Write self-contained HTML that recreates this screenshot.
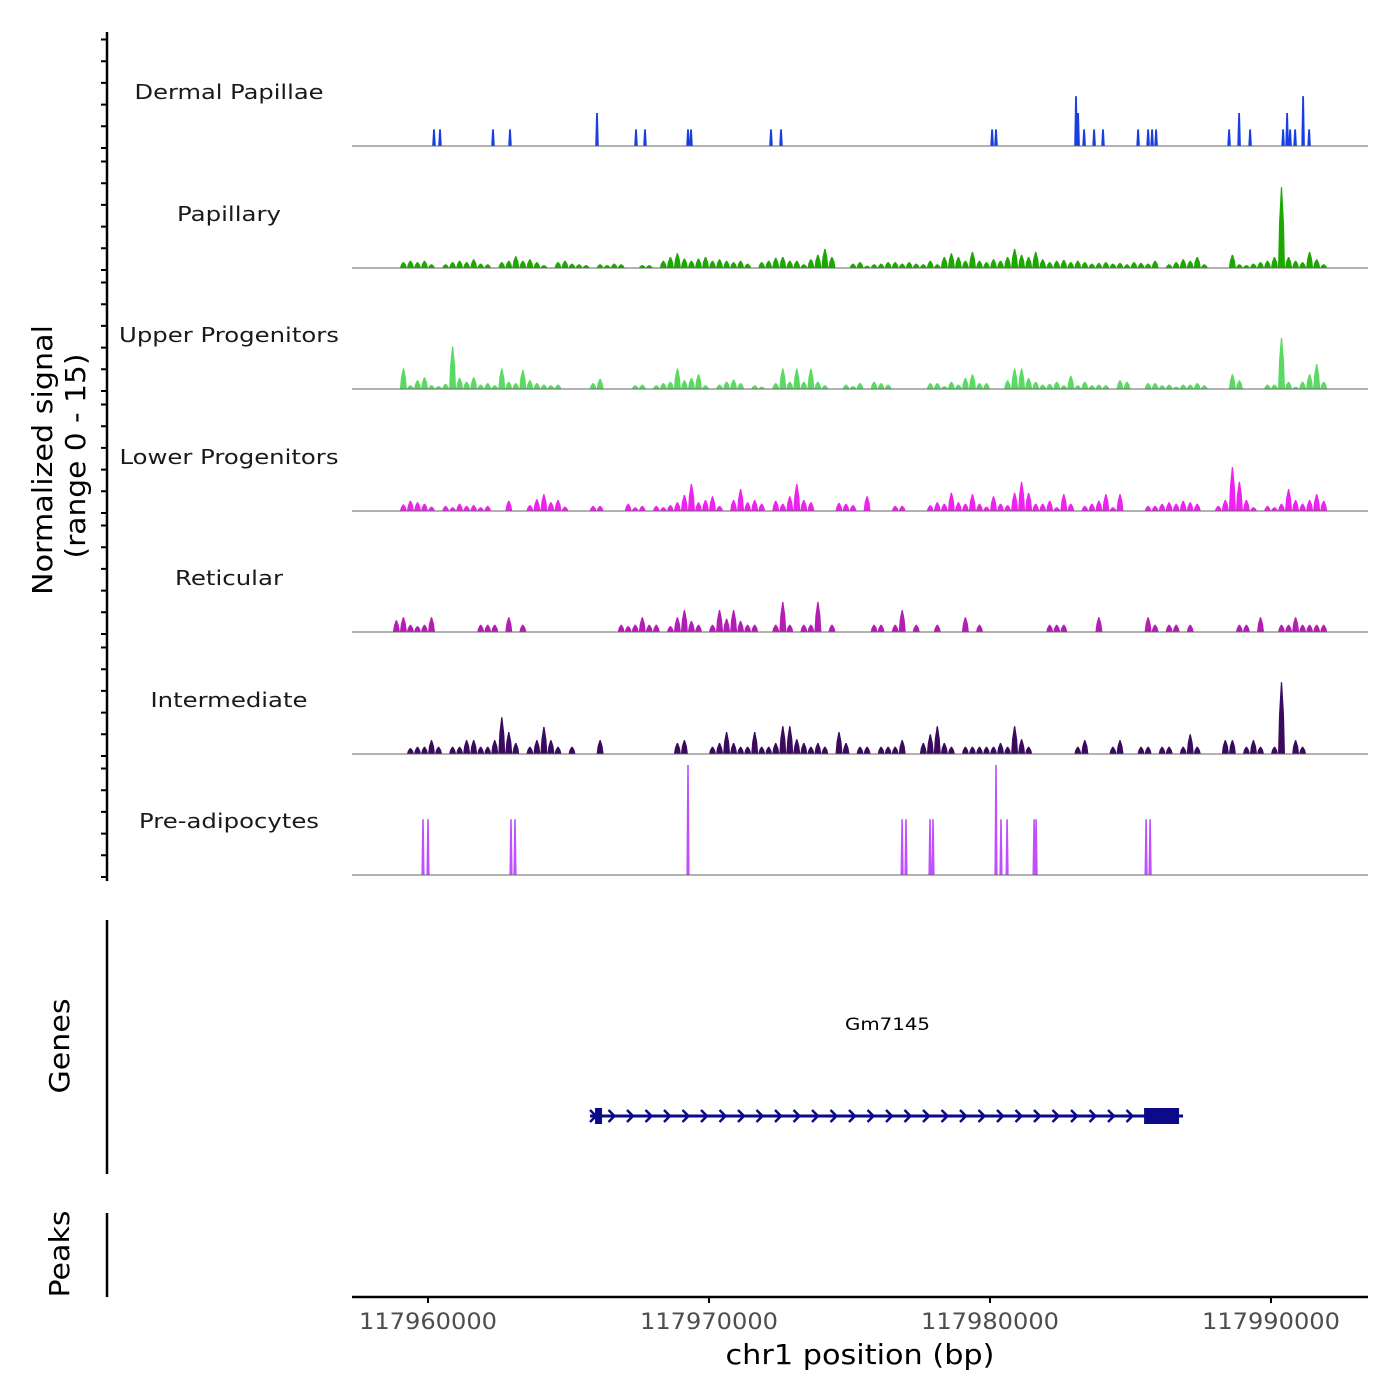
<!DOCTYPE html>
<html><head><meta charset="utf-8"><style>
html,body{margin:0;padding:0;background:#fff;}
svg{display:block;font-family:"DejaVu Sans","Liberation Sans",sans-serif;}
</style></head><body>
<svg id="chart" width="1400" height="1400" viewBox="0 0 1400 1400" xmlns="http://www.w3.org/2000/svg">
<rect width="1400" height="1400" fill="#fff"/>
<g id="tracks"></g>
<g id="axes"></g>
<g id="genes"></g>
</svg>
<script>
// ---- data ----
const trackNames = ["Dermal Papillae","Papillary","Upper Progenitors","Lower Progenitors","Reticular","Intermediate","Pre-adipocytes"];
const trackColors = ["#1a3fe0","#1ca800","#5ada62","#ee22ee","#b41db5","#3a0a5f","#c050ff"];
const xTicks = [117960000,117970000,117980000,117990000];
const binStart = 117958500;
const binSize = 250;
const papillary = [0,0,0.8,1.0,0.8,1.0,0.5,0,0.5,0.8, 1.0,0.8,1.2,0.6,0.5,0,0.8,1.0,1.6,1.0, 1.2,0.8,0.4,0,0.8,1.0,0.6,0.5,0.4,0, 0.5,0.4,0.6,0.5,0,0,0.4,0.4,0,1.0, 1.5,2.0,1.3,1.0,1.3,1.5,1.0,1.2,1.0,0.8, 1.0,0.6,0,0.8,1.0,1.4,1.5,1.0,1.0,0.5, 1.2,1.8,2.6,1.5,0,0,0.6,0.8,0.3,0.5, 0.6,0.8,0.8,0.6,0.8,0.6,0.5,1.0,0.5,1.5, 2.0,1.5,1.0,2.2,1.0,0.8,1.2,1.0,1.5,2.6, 1.8,1.5,2.2,1.2,0.8,1.0,1.1,0.8,1.0,0.8, 0.6,0.7,0.8,0.6,0.7,0.5,0.8,0.7,0.6,1.0, 0,0.5,0.8,1.2,1.0,1.5,0.5,0,0,0, 1.8,0.5,0.4,0.6,0.8,1.0,1.5,11,1.5,1.0, 0.8,2.2,1.2,0.5];
const upperProg = [0,0,2.8,0.5,1.2,1.6,0.5,0.4,0.7,5.8, 1.5,1.0,1.6,0.6,0.8,0.5,2.8,1.0,0.8,2.6, 1.2,0.8,0.6,0.5,0.6,0,0,0,0,0.8, 1.4,0,0,0,0,0.5,0.6,0,0.5,0.8, 1.0,2.8,1.2,1.5,2.0,0.5,0,0.6,1.0,1.3, 0.8,0,0.5,0.3,0,0.8,2.8,1.0,2.8,1.0, 2.8,1.0,0.5,0,0,0.6,0.4,0.8,0,1.0, 0.8,0.6,0,0,0,0,0,0.8,0.8,0.4, 1.0,0.6,1.5,2.0,0.8,0.8,0,0,1.2,2.8, 2.8,1.5,1.0,0.6,0.7,1.0,0.5,1.8,0.5,1.0, 0.5,0.6,0.5,0,1.2,1.0,0,0,0.8,0.8, 0.5,0.6,0.3,0.6,0.6,0.8,0.5,0,0,0, 2.0,1.2,0,0,0,0.6,0.6,7,1.0,0.3, 1.0,2.0,3.4,1.0];
const lowerProg = [0,0,0.9,1.4,1.2,1.0,0.6,0,0.7,0.5, 1.0,0.7,0.8,0.5,0.7,0,0,1.4,0,0, 0.8,1.6,2.3,1.2,1.5,0.6,0,0,0,0.7, 0.7,0,0,0,1.0,0.5,0.7,0,0.7,0.5, 0.8,1.2,2.2,3.7,1.2,1.5,2.0,0.7,0,1.5, 3.0,1.2,1.5,1.0,0,1.4,1.0,2.0,3.7,1.5, 1.2,0,0,0,1.1,1.0,0.8,0,2.0,0, 0,0,0.7,0.7,0,0,0,0.8,1.2,1.0, 2.5,1.2,1.0,2.3,1.0,0.6,2.0,1.0,0.8,2.5, 4.0,2.5,1.0,1.0,1.4,0.5,2.3,1.0,0,0.7, 1.0,1.4,2.3,0.5,2.3,0,0,0,0.7,0.7, 1.0,1.2,1.0,1.4,1.2,1.0,0,0,0.7,1.5, 6.0,4.0,1.5,0.5,0,0.7,0.5,1.0,3.0,1.5, 1.0,1.5,2.3,1.4];
const reticular = [0,1.6,2.0,1.0,0.8,1.0,2.0,0,0,0, 0,0,0,1.0,1.0,1.0,0,2.0,0,1.0, 0,0,0,0,0,0,0,0,0,0, 0,0,0,1.0,0.8,1.0,2.0,1.0,1.0,0, 0.8,2.0,3.0,1.5,1.0,0,1.0,3.0,1.8,3.0, 1.5,1.0,1.0,0,0,1.0,4.1,1.0,0,1.0, 1.0,4.1,0,1.0,0,0,0,0,0,1.0, 1.0,0,1.0,3.0,0,1.0,0,0,1.0,0, 0,0,2.0,0,1.0,0,0,0,0,0, 0,0,0,0,1.0,1.0,1.0,0,0,0, 0,2.0,0,0,0,0,0,0,2.0,1.0, 0,1.0,1.0,0,1.0,0,0,0,0,0, 0,1.0,1.0,0,2.0,0,0,1.0,1.0,2.0, 1.0,1.0,1.0,1.0];
const intermediate = [0,0,0,0.8,1.0,1.0,1.9,1.0,0,1.0, 1.0,1.9,1.9,1.0,1.0,1.9,5.0,3.0,1.5,0, 1.0,1.9,3.7,1.9,1.0,0,1.0,0,0,0, 1.9,0,0,0,0,0,0,0,0,0, 0,1.5,1.9,0,0,0,1.0,1.5,3.0,1.5, 1.0,1.0,3.0,1.0,1.0,1.5,3.8,3.8,2.0,1.5, 1.0,1.5,1.0,0,3.0,1.5,0,1.0,1.0,0, 1.0,1.0,1.0,1.9,0,0,1.5,2.7,3.8,1.5, 1.0,0,1.0,1.0,1.0,1.0,1.0,1.5,1.0,3.8, 2.0,1.0,0,0,0,0,0,0,1.0,1.9, 0,0,0,1.0,1.9,0,0,1.0,1.0,0, 1.0,1.0,0,1.0,2.7,1.0,0,0,0,1.9, 1.9,0,1.0,1.9,1.0,0,1.0,9.8,0,1.9, 1.0,0,0,0];
const dpPos = [117960214,117960427,117962313,117962918,117966015,117966015,117967403,117967723,117969253,117969360,117972207,117972563,117980073,117980215,117983062,117983134,117983347,117983703,117984023,117985269,117985625,117985768,117985910,117988508,117988864,117989256,117990430,117990572,117990679,117990857,117991142,117991355];
const dpVal = [2.27,2.27,2.27,2.27,2.27,4.5,2.27,2.27,2.27,2.27,2.27,2.27,2.27,2.27,6.8,4.5,2.27,2.27,2.27,2.27,2.27,2.27,2.27,2.27,4.5,2.27,2.27,4.5,2.27,2.27,6.8,2.27];
const preadPos = [117959822,117960000,117962954,117963096,117969253,117976870,117977012,117977866,117977973,117980215,117980393,117980607,117981568,117981640,117985554,117985697];
const preadVal = [7.6,7.6,7.6,7.6,15,7.6,7.6,7.6,7.6,15,7.6,7.6,7.6,7.6,7.6,7.6];
const geneName = "Gm7145";
const geneStart = 117965766, geneEnd = 117986870;
const exonStarts = [117965944, 117985483];
const exonEnds = [117966193, 117986728];

// ---- scales ----
const NS = "http://www.w3.org/2000/svg";
const X0 = 352, X1 = 1368, BP0 = 117957295, BP1 = 117993452;
function xs(bp){ return X0 + (bp - BP0) / (BP1 - BP0) * (X1 - X0); }
const baselines = [146, 268, 389, 511, 632, 754, 875];
const pxPerUnit = 110 / 15;
function ys(v, t){ return baselines[t] - v * pxPerUnit; }
function mk(tag, attrs, parent){ const e = document.createElementNS(NS, tag); for (const k in attrs) e.setAttribute(k, attrs[k]); parent.appendChild(e); return e; }

const tracksG = document.getElementById('tracks');
const axesG = document.getElementById('axes');
const genesG = document.getElementById('genes');

function drawBins(arr, t){
  let d = "";
  const b = baselines[t];
  for (let i = 0; i < arr.length; i++){
    const v = arr[i]; if (!v) continue;
    const x0 = xs(binStart + i*binSize), x1 = xs(binStart + (i+1)*binSize), xc = (x0+x1)/2;
    const y = ys(v, t);
    const ym = ys(v*0.55, t);
    d += `M${x0.toFixed(1)},${b}L${(x0+1).toFixed(1)},${ym.toFixed(1)}L${(xc-0.6).toFixed(1)},${y.toFixed(1)}L${(xc+0.6).toFixed(1)},${y.toFixed(1)}L${(x1-1).toFixed(1)},${ym.toFixed(1)}L${x1.toFixed(1)},${b}Z`;
  }
  const p = mk('path', {d: d, fill: trackColors[t]}, tracksG);
  
  
}
function drawSpikes(pos, val, t, w){
  let d = "";
  const b = baselines[t];
  for (let i = 0; i < pos.length; i++){
    const x = xs(pos[i]), y = ys(val[i], t);
    d += `M${(x-w).toFixed(1)},${b}L${(x-w*0.5).toFixed(1)},${y.toFixed(1)}L${(x+w*0.5).toFixed(1)},${y.toFixed(1)}L${(x+w).toFixed(1)},${b}Z`;
  }
  const p = mk('path', {d: d, fill: trackColors[t]}, tracksG);
  
  
}

drawSpikes(dpPos, dpVal, 0, 1.8);
drawBins(papillary, 1);
drawBins(upperProg, 2);
drawBins(lowerProg, 3);
drawBins(reticular, 4);
drawBins(intermediate, 5);
drawSpikes(preadPos, preadVal, 6, 1.6);

// baselines and track labels
const labelW = [189,104,220,219,108,157,180];
for (let t = 0; t < trackNames.length; t++){
  const l = mk('line', {x1: X0, x2: X1, y1: baselines[t], y2: baselines[t], stroke: '#666', 'stroke-width': 1}, tracksG);
  
  
  const tx = mk('text', {x: 229, y: baselines[t] - 47, 'text-anchor': 'middle', 'font-size': 20, fill: '#1a1a1a', textLength: labelW[t], lengthAdjust: 'spacingAndGlyphs'}, tracksG);
  tx.textContent = trackNames[t];
  
  
}

// left signal axis
let a = mk('line', {x1: 107, x2: 107, y1: 32, y2: 881, stroke: '#000', 'stroke-width': 2.5}, axesG);


let tk = "";
for (let t = 0; t < baselines.length; t++){
  for (let k = 0; k < 6; k++){ const y = baselines[t] - k*21.7 + 2; tk += `M101,${y.toFixed(1)}H107`; }
}
a = mk('path', {d: tk, stroke: '#000', 'stroke-width': 2}, axesG);


a = mk('text', {x: 0, y: 0, transform: 'translate(52,460) rotate(-90)', 'text-anchor': 'middle', 'font-size': 28, fill: '#000', textLength: 270, lengthAdjust: 'spacingAndGlyphs'}, axesG);
a.textContent = "Normalized signal";


a = mk('text', {x: 0, y: 0, transform: 'translate(85,456) rotate(-90)', 'text-anchor': 'middle', 'font-size': 28, fill: '#000', textLength: 205, lengthAdjust: 'spacingAndGlyphs'}, axesG);
a.textContent = "(range 0 - 15)";



// genes / peaks panel axes
a = mk('line', {x1: 107, x2: 107, y1: 920, y2: 1174, stroke: '#000', 'stroke-width': 2.5}, axesG);


a = mk('text', {x: 0, y: 0, transform: 'translate(69,1046) rotate(-90)', 'text-anchor': 'middle', 'font-size': 28, fill: '#000', textLength: 95, lengthAdjust: 'spacingAndGlyphs'}, axesG);
a.textContent = "Genes";


a = mk('line', {x1: 107, x2: 107, y1: 1213, y2: 1297, stroke: '#000', 'stroke-width': 2.5}, axesG);


a = mk('text', {x: 0, y: 0, transform: 'translate(69,1254) rotate(-90)', 'text-anchor': 'middle', 'font-size': 28, fill: '#000', textLength: 87, lengthAdjust: 'spacingAndGlyphs'}, axesG);
a.textContent = "Peaks";



// x axis
a = mk('line', {x1: X0, x2: X1, y1: 1297, y2: 1297, stroke: '#000', 'stroke-width': 2.5}, axesG);


for (let i = 0; i < xTicks.length; i++){
  const x = xs(xTicks[i]);
  const l = mk('line', {x1: x, x2: x, y1: 1297, y2: 1303, stroke: '#000', 'stroke-width': 2}, axesG);
  
  
  const t = mk('text', {x: x, y: 1329, 'text-anchor': 'middle', 'font-size': 22, fill: '#4d4d4d', textLength: 138, lengthAdjust: 'spacingAndGlyphs'}, axesG);
  t.textContent = String(xTicks[i]);
  
  
}
a = mk('text', {x: 860, y: 1364, 'text-anchor': 'middle', 'font-size': 28, fill: '#000', textLength: 269, lengthAdjust: 'spacingAndGlyphs'}, axesG);
a.textContent = "chr1 position (bp)";



// gene model
const gc = "#0a0a8a";
const gx0 = xs(geneStart), gx1 = xs(geneEnd);
a = mk('line', {x1: gx0, x2: gx1, y1: 1116, y2: 1116, stroke: gc, 'stroke-width': 3}, genesG);


let ad = "";
for (let x = gx0 + 3; x < gx1 - 30; x += 18.5){ ad += `M${(x-3).toFixed(1)},1110L${(x+3).toFixed(1)},1116L${(x-3).toFixed(1)},1122`; }
a = mk('path', {d: ad, stroke: gc, 'stroke-width': 2.5, fill: 'none'}, genesG);


for (let i = 0; i < exonStarts.length; i++){
  const r = mk('rect', {x: xs(exonStarts[i]), y: 1108, width: xs(exonEnds[i]) - xs(exonStarts[i]), height: 16, fill: gc}, genesG);
  
  
}
a = mk('text', {x: (gx0+gx1)/2 + 1, y: 1030, 'text-anchor': 'middle', 'font-size': 17, fill: '#000', textLength: 85, lengthAdjust: 'spacingAndGlyphs'}, genesG);
a.textContent = geneName;


</script>
</body></html>
